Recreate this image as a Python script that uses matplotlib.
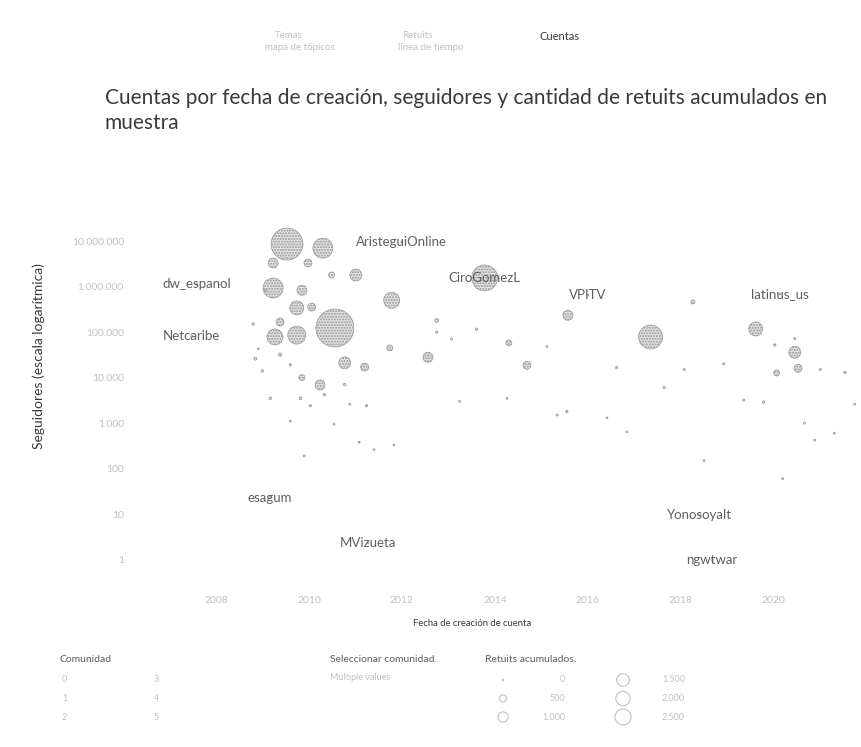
import numpy as np
import matplotlib
matplotlib.use("Agg")
import matplotlib.pyplot as plt
from matplotlib.ticker import FixedLocator

plt.rcParams["font.family"] = ["Lato", "DejaVu Sans"]

# cuentas sin etiqueta: año de creación, seguidores, retuits acumulados
fechas = [2009.53, 2010.30, 2009.23, 2009.98, 2010.49, 2011.01, 2009.23, 2009.85,
          2011.78, 2009.74, 2010.06, 2010.56, 2009.27, 2009.74, 2009.38, 2010.77,
          2011.20, 2011.74, 2012.56, 2010.24, 2009.85, 2015.57, 2017.35, 2018.26,
          2019.61, 2020.45, 2020.52, 2020.06, 2014.69, 2014.30, 2012.75,
          # cuentas pequeñas
          2008.85, 2009.00, 2009.38, 2009.60, 2009.82, 2010.03, 2009.17, 2008.91,
          2010.33, 2010.77, 2010.88, 2011.24, 2011.08, 2009.60, 2008.80, 2009.07,
          2012.75, 2013.07, 2013.61, 2014.26, 2015.12, 2015.55, 2016.41, 2016.62,
          2018.07, 2017.64, 2018.92, 2019.35, 2020.02, 2020.45, 2021.00, 2021.53,
          2021.30, 2020.88, 2021.74, 2019.78, 2020.66, 2015.34, 2016.84, 2013.24,
          2010.54, 2009.90, 2011.40, 2011.83, 2018.50, 2020.19]
seguidores = [8.6e6, 7.0e6, 3.3e6, 3.3e6, 1.8e6, 1.8e6, 9.3e5, 8.3e5,
              5.0e5, 3.4e5, 3.55e5, 1.23e5, 7.8e4, 8.6e4, 1.66e5, 2.1e4,
              1.7e4, 4.5e4, 2.8e4, 6.9e3, 1.0e4, 2.34e5, 7.8e4, 4.6e5,
              1.17e5, 3.6e4, 1.6e4, 1.26e4, 1.86e4, 5.8e4, 1.8e5,
              2.6e4, 1.4e4, 3.2e4, 1.9e4, 3.5e3, 2.4e3, 3.5e3, 4.3e4,
              4.2e3, 7.0e3, 2.6e3, 2.4e3, 380, 1.1e3, 1.5e5, 8.2e5,
              1.0e5, 7.0e4, 1.16e5, 3.5e3, 4.8e4, 1.8e3, 1.3e3, 1.65e4,
              1.5e4, 6.0e3, 2.0e4, 3.2e3, 5.2e4, 7.2e4, 1.5e4, 1.3e4,
              600, 420, 2.6e3, 2.9e3, 1.0e3, 1.5e3, 640, 3.0e3,
              950, 190, 260, 330, 150, 60]
retuits = [9970, 3890, 980, 620, 350, 1400, 3890, 980,
           2490, 1900, 620, 14080, 2490, 3160, 620, 1400,
           620, 350, 980, 980, 350, 980, 5600, 160,
           1900, 1400, 620, 350, 620, 350, 140,
           84, 70, 112, 56, 84, 56, 70, 40,
           56, 70, 40, 56, 40, 40, 56, 40,
           56, 40, 56, 40, 40, 56, 40, 56,
           40, 56, 40, 40, 56, 40, 40, 56,
           40, 40, 40, 56, 40, 40, 40, 40,
           40, 40, 40, 40, 40, 40]

# cuentas con nombre visible
cuentas = ["AristeguiOnline", "dw_espanol", "Netcaribe", "CiroGomezL", "VPITV",
           "latinus_us", "esagum", "MVizueta", "Yonosoyalt", "ngwtwar"]
cuentas_fecha = [2012.0, 2007.59, 2007.48, 2013.78, 2016.0,
                 2020.13, 2009.16, 2011.27, 2018.41, 2018.67]
cuentas_seg = [9.5e6, 1.12e6, 8.1e4, 1.55e6, 6.5e5,
               6.9e5, 23, 2.3, 9.5, 1]
cuentas_rt = [40, 40, 40, 6580, 40, 40, 40, 40, 40, 40]

anios = [2008, 2010, 2012, 2014, 2016, 2018, 2020]
y_ticks = [1, 10, 100, 1e3, 1e4, 1e5, 1e6, 1e7]
y_tick_labels = ["1", "10", "100", "1.000", "10.000", "100.000", "1.000.000", "10.000.000"]

leyenda_rt = [0, 500, 1000, 1500, 2000, 2500]
leyenda_rt_labels = ["0", "500", "1.000", "1.500", "2.000", "2.500"]
comunidades = ["0", "1", "2", "3", "4", "5"]

ESCALA = 0.0531  # puntos^2 por retuit

TXT_FAINT = "#c0c0c0"
TXT_MID = "#5e5e5e"
TXT_DARK = "#3a3a3a"

fig = plt.figure(figsize=(8.61, 7.47), dpi=100)

# pestañas superiores
fig.text(275 / 861, 1 - 36 / 747, "Temas", fontsize=7, color=TXT_FAINT, va="center")
fig.text(265 / 861, 1 - 48 / 747, "mapa de tópicos", fontsize=7, color=TXT_FAINT, va="center")
fig.text(402 / 861, 1 - 36 / 747, "Retuits", fontsize=7, color=TXT_FAINT, va="center")
fig.text(398 / 861, 1 - 48 / 747, "línea de tiempo", fontsize=7, color=TXT_FAINT, va="center")
fig.text(540 / 861, 1 - 36 / 747, "Cuentas", fontsize=8, color=TXT_DARK, va="center")

fig.text(105 / 861, 1 - 98 / 747,
         "Cuentas por fecha de creación, seguidores y cantidad de retuits acumulados en",
         fontsize=15, color=TXT_DARK, va="center")
fig.text(105 / 861, 1 - 123 / 747, "muestra", fontsize=15, color=TXT_DARK, va="center")

ax = fig.add_axes([135 / 861, 1 - 585 / 747, 723 / 861, 363 / 747])
ax.set_yscale("log")
ax.set_xlim(2006.26, 2021.81)
ax.set_ylim(10 ** -0.56, 10 ** 7.42)

estilo = dict(facecolor="#dedede", edgecolor="#8a8a8a", linewidth=0.5,
              hatch="......", alpha=0.85, zorder=2)
s = np.array(retuits) * ESCALA
ax.scatter(fechas, seguidores, s=np.maximum(s, 2), **estilo)
s2 = np.array(cuentas_rt) * ESCALA
ax.scatter(cuentas_fecha, cuentas_seg, s=np.maximum(s2, 2), **estilo)

for nombre, f, seg in zip(cuentas, cuentas_fecha, cuentas_seg):
    ax.text(f, seg, nombre, fontsize=9.5, color=TXT_MID, ha="center", va="center", zorder=3)

ax.yaxis.set_major_locator(FixedLocator(y_ticks))
ax.set_yticklabels(y_tick_labels)
ax.yaxis.set_minor_locator(FixedLocator([]))
ax.set_xticks(anios)
ax.set_xticklabels([str(a) for a in anios])
ax.tick_params(length=0, labelsize=7.5, labelcolor=TXT_FAINT, pad=8)
for sp in ax.spines.values():
    sp.set_visible(False)
ax.set_ylabel("Seguidores (escala logarítmica)", fontsize=10, color=TXT_DARK)
ax.yaxis.set_label_coords(-0.125, 0.63)
ax.set_xlabel("Fecha de creación de cuenta", fontsize=6.8, color=TXT_DARK)
ax.xaxis.set_label_coords((472 - 135) / 723, -0.095)

# leyendas inferiores, en coordenadas de píxel
lg = fig.add_axes([0, 0, 1, 1], zorder=-1)
lg.set_xlim(0, 861)
lg.set_ylim(747, 0)
lg.axis("off")

lg.text(60, 659, "Comunidad", fontsize=7.5, color=TXT_MID, va="center")
for i, c in enumerate(comunidades):
    col, fila = divmod(i, 3)
    x0 = 62 + col * 92
    y0 = 680 + fila * 18.5
    lg.text(x0, y0, c, fontsize=6.5, color=TXT_FAINT, va="center")

lg.text(330, 659, "Seleccionar comunidad.", fontsize=7.5, color=TXT_MID, va="center")
lg.text(330, 677, "Multiple values", fontsize=6.5, color=TXT_FAINT, va="center")

lg.text(485, 659, "Retuits acumulados.", fontsize=7.5, color=TXT_MID, va="center")
for i, (v, lab) in enumerate(zip(leyenda_rt, leyenda_rt_labels)):
    col, fila = divmod(i, 3)
    cx = 503 + col * 120
    cy = 680 + fila * 18.5
    lg.scatter([cx], [cy], s=max(v * ESCALA, 1), facecolor="none",
               edgecolor="#c0c0c0", linewidth=0.8)
    lg.text(cx + 62, cy, lab, fontsize=6.5, color=TXT_FAINT, va="center", ha="right")

fig.savefig("out.png", dpi=100)
